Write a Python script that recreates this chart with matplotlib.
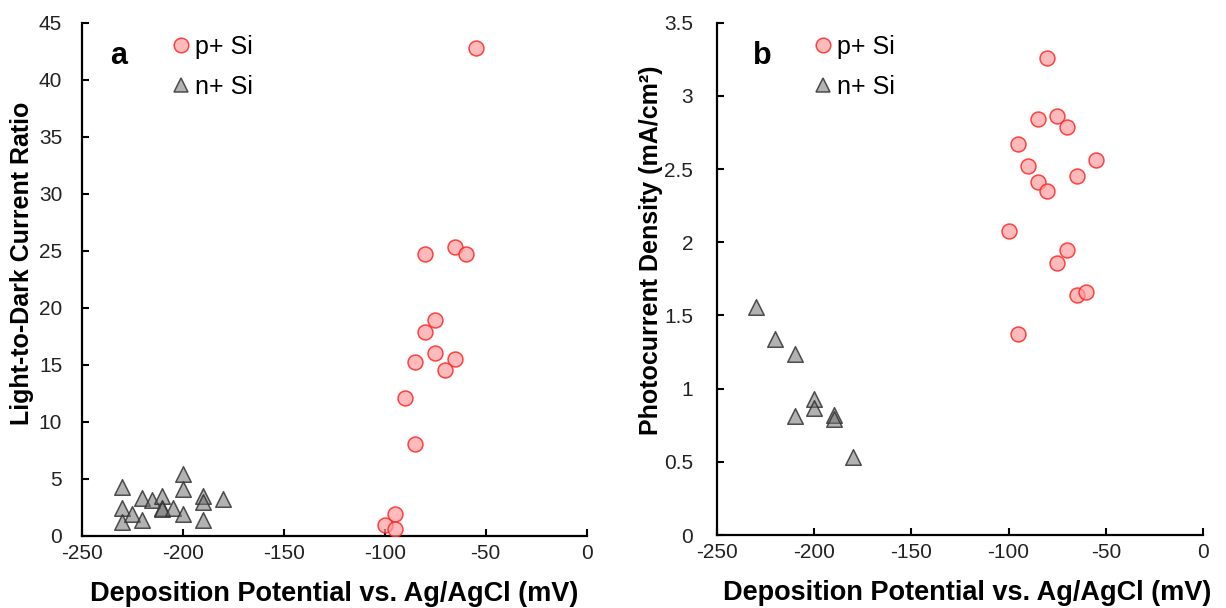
import matplotlib
matplotlib.use("Agg")
import matplotlib.pyplot as plt
from matplotlib.lines import Line2D

plt.rcParams['font.family'] = ['Liberation Sans', 'DejaVu Sans']
plt.rcParams['axes.unicode_minus'] = False

# Panel a: light-to-dark current ratio
a_p_potential = [-55, -80, -65, -60, -75, -80, -75, -85, -65, -70, -90, -85, -95, -100, -95]
a_p_ratio = [42.8, 24.7, 25.3, 24.7, 18.9, 17.9, 16.0, 15.2, 15.5, 14.5, 12.1, 8.0, 1.9, 0.9, 0.6]

a_n_potential = [-230, -230, -230, -225, -220, -220, -215, -210, -210, -210, -205,
                 -200, -200, -200, -190, -190, -190, -180]
a_n_ratio = [4.3, 2.4, 1.2, 1.9, 3.3, 1.4, 3.1, 3.5, 2.4, 2.3, 2.4,
             5.4, 4.1, 1.9, 3.5, 2.9, 1.4, 3.2]

# Panel b: photocurrent density
b_p_potential = [-80, -85, -75, -70, -95, -90, -55, -65, -85, -80, -100, -70, -75, -65, -60, -95]
b_p_density = [3.26, 2.84, 2.86, 2.79, 2.67, 2.52, 2.56, 2.45, 2.41, 2.35, 2.08, 1.95, 1.86, 1.64, 1.66, 1.37]

b_n_potential = [-230, -220, -210, -200, -200, -210, -190, -190, -180]
b_n_density = [1.56, 1.34, 1.24, 0.93, 0.87, 0.81, 0.82, 0.79, 0.53]

x_ticks = [-250, -200, -150, -100, -50, 0]
a_y_ticks = [0, 5, 10, 15, 20, 25, 30, 35, 40, 45]
b_y_ticks = [0, 0.5, 1, 1.5, 2, 2.5, 3, 3.5]
b_y_ticklabels = ['0', '0.5', '1', '1.5', '2', '2.5', '3', '3.5']

p_face = (1.0, 0.62, 0.62, 0.7)
p_edge = (1.0, 0.15, 0.15, 0.85)
n_face = (0.45, 0.45, 0.45, 0.55)
n_edge = (0.2, 0.2, 0.2, 0.85)
circle_size = 115
tri_size = 125
lw = 1.1

fig = plt.figure(figsize=(12.26, 6.08), dpi=100)
ax_a = fig.add_axes([0.0666, 0.1192, 0.4120, 0.8435])
ax_b = fig.add_axes([0.5848, 0.1200, 0.3964, 0.8427])


def style(ax, ypad):
    for side in ('top', 'right'):
        ax.spines[side].set_visible(False)
    for side in ('left', 'bottom'):
        ax.spines[side].set_linewidth(1.6)
        ax.spines[side].set_color('black')
    ax.tick_params(axis='both', direction='in', length=5, width=1.5,
                   labelsize=15, labelcolor='#222222')
    ax.tick_params(axis='x', pad=6)
    ax.tick_params(axis='y', pad=ypad)
    ax.set_xlim(-250, 0)
    ax.set_xticks(x_ticks)
    ax.set_xlabel('Deposition Potential vs. Ag/AgCl (mV)', fontsize=19.5,
                  fontweight='bold')
    ax.xaxis.label.set_va('center')


def legend(ax, x0):
    handles = [
        Line2D([], [], linestyle='none', marker='o', markersize=10.5,
               markerfacecolor=p_face, markeredgecolor=p_edge, markeredgewidth=lw),
        Line2D([], [], linestyle='none', marker='^', markersize=9.5,
               markerfacecolor=n_face, markeredgecolor=n_edge, markeredgewidth=lw),
    ]
    ax.legend(handles, ['p+ Si', 'n+ Si'], loc='upper left',
              bbox_to_anchor=(x0, 0.995), frameon=False, fontsize=18,
              handlelength=0.7, handletextpad=0.2, labelspacing=0.62,
              borderaxespad=0.0)


# Panel a
ax_a.scatter(a_p_potential, a_p_ratio, s=circle_size, marker='o', facecolor=p_face,
             edgecolor=p_edge, linewidths=lw, zorder=3)
ax_a.scatter(a_n_potential, a_n_ratio, s=tri_size, marker='^', facecolor=n_face,
             edgecolor=n_edge, linewidths=lw, zorder=3)
style(ax_a, 14)
ax_a.set_ylim(0, 45)
ax_a.set_yticks(a_y_ticks)
ax_a.set_ylabel('Light-to-Dark Current Ratio', fontsize=18, fontweight='bold')
ax_a.yaxis.label.set_va('center')
ax_a.yaxis.set_label_coords(-0.118, 0.53)
ax_a.xaxis.set_label_coords(0.50, -0.114)
ax_a.text(0.073, 0.935, 'a', transform=ax_a.transAxes, fontsize=22,
          fontweight='bold', ha='center', va='center')
legend(ax_a, 0.16)

# Panel b
ax_b.scatter(b_p_potential, b_p_density, s=circle_size, marker='o', facecolor=p_face,
             edgecolor=p_edge, linewidths=lw, zorder=3)
ax_b.scatter(b_n_potential, b_n_density, s=tri_size, marker='^', facecolor=n_face,
             edgecolor=n_edge, linewidths=lw, zorder=3)
style(ax_b, 17)
ax_b.set_ylim(0, 3.5)
ax_b.set_yticks(b_y_ticks)
ax_b.set_yticklabels(b_y_ticklabels)
ax_b.set_ylabel('Photocurrent Density (mA/cm²)', fontsize=18, fontweight='bold')
ax_b.yaxis.label.set_va('center')
ax_b.yaxis.set_label_coords(-0.135, 0.555)
ax_b.xaxis.set_label_coords(0.515, -0.114)
ax_b.text(0.093, 0.935, 'b', transform=ax_b.transAxes, fontsize=22,
          fontweight='bold', ha='center', va='center')
legend(ax_b, 0.18)

fig.savefig('out.png', dpi=100, facecolor='white')
